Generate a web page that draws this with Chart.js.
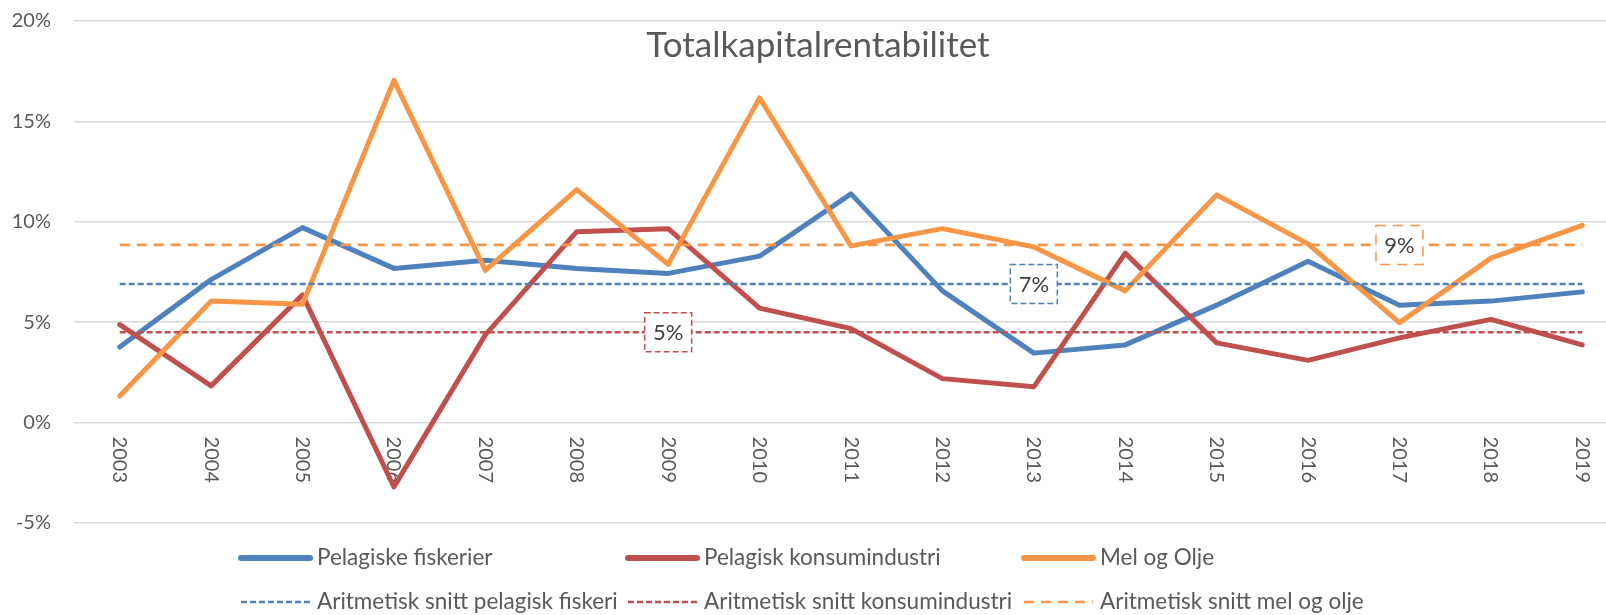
<!DOCTYPE html>
<html>
<head>
<meta charset="utf-8">
<script src="https://cdn.jsdelivr.net/npm/chart.js@4.4.1/dist/chart.umd.min.js"></script>
<style>
html, body { margin: 0; padding: 0; background: #fff; overflow: hidden; }
#wrap { width: 1606px; height: 615px; overflow: hidden; }
#box { width: 1640px; height: 615px; }
</style>
</head>
<body>
<div id="wrap"><div id="box"><canvas id="chart"></canvas></div></div>
<script>
const years = ['2003', '2004', '2005', '2006', '2007', '2008', '2009', '2010', '2011',
               '2012', '2013', '2014', '2015', '2016', '2017', '2018', '2019'];

const fiskerier = [3.76, 7.12, 9.71, 7.68, 8.09, 7.68, 7.43, 8.29, 11.39, 6.56, 3.46, 3.87, 5.85, 8.04, 5.85, 6.05, 6.51];
const konsum    = [4.88, 1.83, 6.36, -3.2, 4.37, 9.51, 9.66, 5.70, 4.68, 2.19, 1.78, 8.44, 3.97, 3.10, 4.22, 5.14, 3.87];
const melOlje   = [1.32, 6.05, 5.90, 17.04, 7.58, 11.60, 7.88, 16.17, 8.80, 9.66, 8.75, 6.56, 11.34, 8.90, 4.98, 8.19, 9.82];

// arithmetic means (fiskeri, konsum, mel og olje) and the year their label sits on
const snitt = [6.9, 4.5, 8.85];
const snittLabels = ['7%', '5%', '9%'];
const snittLabelYear = ['2013', '2009', '2017'];

const yTicks = [-5, 0, 5, 10, 15, 20];

const BLUE = '#4F81BD';
const RED = '#C0504D';
const ORANGE = '#F79646';
const TEXT = '#595959';
const FONT = 'Lato, "Open Sans", sans-serif';

function snittLine(v) {
    return [{x: years[0], y: v}, {x: years[years.length - 1], y: v}];
}

const decor = {
    id: 'decor',
    beforeDatasetsDraw(chart) {
        const {ctx, scales: {x, y}} = chart;
        const y0 = y.getPixelForValue(0);
        ctx.save();
        ctx.fillStyle = TEXT;
        ctx.font = '20px ' + FONT;
        ctx.textAlign = 'left';
        ctx.textBaseline = 'middle';
        years.forEach((yr, i) => {
            ctx.save();
            ctx.translate(x.getPixelForValue(i), y0 + 14);
            ctx.rotate(Math.PI / 2);
            ctx.fillText(yr, 0, 0);
            ctx.restore();
        });
        ctx.restore();
    },
    afterDatasetsDraw(chart) {
        const {ctx, scales: {x, y}} = chart;
        ctx.save();
        snitt.forEach((v, i) => {
            const ds = chart.data.datasets[3 + i];
            const cx = x.getPixelForValue(years.indexOf(snittLabelYear[i]));
            const cy = y.getPixelForValue(v);
            const w = 47, h = 39;
            ctx.fillStyle = '#fff';
            ctx.fillRect(cx - w / 2, cy - h / 2, w, h);
            ctx.strokeStyle = ds.borderColor;
            ctx.lineWidth = 1.5;
            ctx.setLineDash(ds.borderDash);
            ctx.strokeRect(cx - w / 2, cy - h / 2, w, h);
            ctx.setLineDash([]);
            ctx.fillStyle = '#404040';
            ctx.font = '22px ' + FONT;
            ctx.textAlign = 'center';
            ctx.textBaseline = 'middle';
            ctx.fillText(snittLabels[i], cx, cy + 1);
        });
        ctx.restore();
    },
    afterDraw(chart) {
        const {ctx} = chart;
        ctx.save();
        // title
        ctx.fillStyle = TEXT;
        ctx.font = '35px ' + FONT;
        ctx.textAlign = 'center';
        ctx.textBaseline = 'middle';
        ctx.fillText('Totalkapitalrentabilitet', 818, 46);

        // legend, two rows by three columns
        const cols = [241, 628, 1024];
        const rows = [558, 602];
        chart.data.datasets.forEach((ds, i) => {
            const lx = cols[i % 3];
            const ly = rows[Math.floor(i / 3)];
            ctx.strokeStyle = ds.borderColor;
            ctx.lineWidth = ds.borderDash.length ? ds.borderWidth : 6;
            ctx.lineCap = ds.borderDash.length ? 'butt' : 'round';
            ctx.setLineDash(ds.borderDash);
            ctx.beginPath();
            ctx.moveTo(lx, ly);
            ctx.lineTo(lx + 69, ly);
            ctx.stroke();
            ctx.setLineDash([]);
            ctx.fillStyle = TEXT;
            ctx.font = '22.5px ' + FONT;
            ctx.textAlign = 'left';
            ctx.textBaseline = 'middle';
            ctx.fillText(ds.label, lx + 76, ly);
        });
        ctx.restore();
    }
};

const solid = {
    borderWidth: 5,
    borderCapStyle: 'round',
    borderJoinStyle: 'round',
    pointRadius: 0,
    borderDash: [],
    fill: false
};

new Chart(document.getElementById('chart'), {
    type: 'line',
    data: {
        labels: years,
        datasets: [
            {...solid, label: 'Pelagiske fiskerier', data: fiskerier, borderColor: BLUE, order: 6},
            {...solid, label: 'Pelagisk konsumindustri', data: konsum, borderColor: RED, order: 5},
            {...solid, label: 'Mel og Olje', data: melOlje, borderColor: ORANGE, order: 4},
            {label: 'Aritmetisk snitt pelagisk fiskeri', data: snittLine(snitt[0]), borderColor: BLUE,
             borderWidth: 2.5, borderDash: [6, 3], pointRadius: 0, order: 3},
            {label: 'Aritmetisk snitt konsumindustri', data: snittLine(snitt[1]), borderColor: RED,
             borderWidth: 2.5, borderDash: [6, 3], pointRadius: 0, order: 2},
            {label: 'Aritmetisk snitt mel og olje', data: snittLine(snitt[2]), borderColor: ORANGE,
             borderWidth: 2.6, borderDash: [10, 7], pointRadius: 0, order: 1},
        ]
    },
    options: {
        animation: false,
        responsive: true,
        maintainAspectRatio: false,
        layout: {
            padding: {top: 21, right: 12, bottom: 92, left: 0}
        },
        scales: {
            x: {
                type: 'category',
                display: false,
                offset: true
            },
            y: {
                min: -5,
                max: 20,
                afterBuildTicks: (scale) => {
                    scale.ticks = yTicks.map(v => ({value: v}));
                },
                afterFit: (scale) => {
                    scale.width = 74;
                    scale.paddingTop = 0;
                    scale.paddingBottom = 0;
                },
                border: {display: false},
                grid: {
                    color: '#D9D9D9',
                    lineWidth: 1.5,
                    drawTicks: false
                },
                ticks: {
                    padding: 23,
                    color: TEXT,
                    font: {family: FONT, size: 20},
                    callback: (value) => value + '%'
                }
            }
        },
        plugins: {
            legend: {display: false},
            tooltip: {enabled: false},
            title: {display: false}
        }
    },
    plugins: [decor]
});
</script>
</body>
</html>
